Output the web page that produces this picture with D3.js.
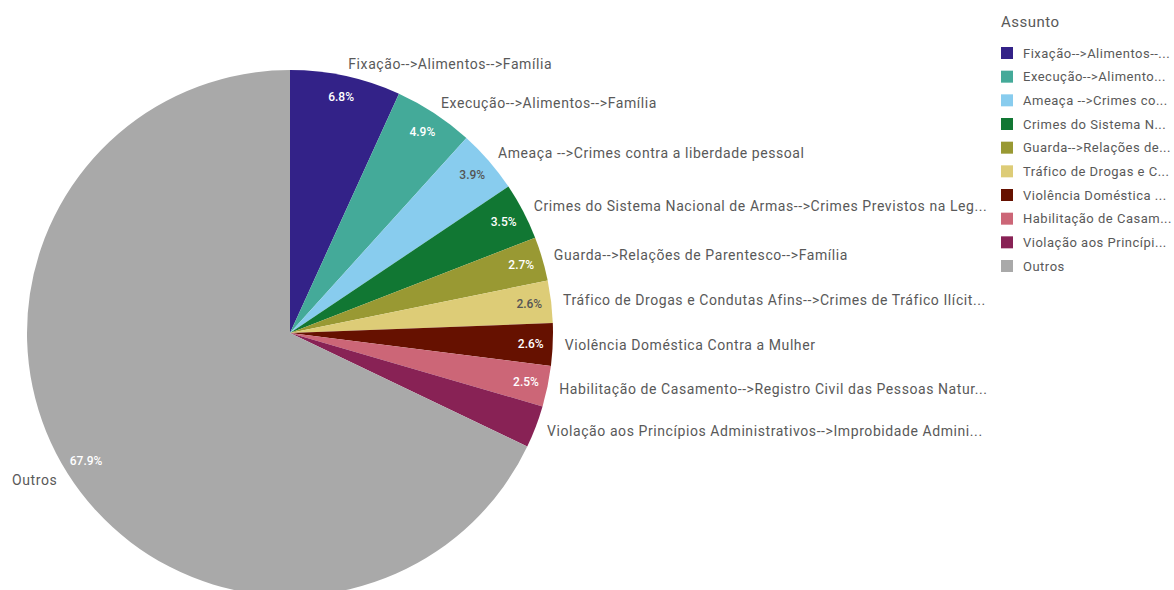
<!DOCTYPE html>
<html>
<head>
<meta charset="utf-8">
<script src="https://cdn.jsdelivr.net/npm/d3@7"></script>
<style>
  html, body { margin: 0; padding: 0; background: #fff; }
  svg { display: block; font-family: Roboto, "Noto Sans", sans-serif; }
</style>
</head>
<body>
<svg id="chart" width="1174" height="590"></svg>
<script>
const categories = [
  "Fixação-->Alimentos-->Família",
  "Execução-->Alimentos-->Família",
  "Ameaça -->Crimes contra a liberdade pessoal",
  "Crimes do Sistema Nacional de Armas-->Crimes Previstos na Leg...",
  "Guarda-->Relações de Parentesco-->Família",
  "Tráfico de Drogas e Condutas Afins-->Crimes de Tráfico Ilícit...",
  "Violência Doméstica Contra a Mulher",
  "Habilitação de Casamento-->Registro Civil das Pessoas Natur...",
  "Violação aos Princípios Administrativos-->Improbidade Admini...",
  "Outros"
];
const values = [6.8, 4.9, 3.9, 3.5, 2.7, 2.6, 2.6, 2.5, 2.6, 67.9];
const showPct = [true, true, true, true, true, true, true, true, false, true];
const colors = ["#332288", "#44aa99", "#88ccee", "#117733", "#999933", "#ddcc77", "#661100", "#cc6677", "#882255", "#a9a9a9"];
const pctTextColors = ["#ffffff", "#ffffff", "#555555", "#ffffff", "#ffffff", "#555555", "#ffffff", "#ffffff", "#ffffff", "#ffffff"];
const legendTitle = "Assunto";

const svg = d3.select("#chart");
const cx = 290, cy = 333, R = 263;

const color = d3.scaleOrdinal().domain(categories).range(colors);
const pie = d3.pie().sort(null).value(d => d.v);
const data = categories.map((c, i) => ({ c, v: values[i], i }));
const arcs = pie(data);
const arc = d3.arc().innerRadius(0).outerRadius(R);
const labelArc = d3.arc().innerRadius(R + 12).outerRadius(R + 12);
const pctArc = d3.arc().innerRadius(241).outerRadius(241);

const g = svg.append("g").attr("transform", `translate(${cx},${cy})`);
g.selectAll("path.slice").data(arcs).enter().append("path")
  .attr("class", "slice")
  .attr("d", arc)
  .attr("fill", d => color(d.data.c));

const total = d3.sum(values);
g.selectAll("text.pct").data(arcs.filter(d => showPct[d.data.i])).enter().append("text")
  .attr("class", "pct")
  .attr("transform", d => `translate(${pctArc.centroid(d)})`)
  .attr("text-anchor", "middle")
  .attr("dominant-baseline", "central")
  .attr("font-size", 12)
  .attr("font-weight", 500)
  .attr("fill", d => pctTextColors[d.data.i])
  .text(d => d3.format(".1f")(d.data.v / total * 100) + "%");

g.selectAll("text.lbl").data(arcs).enter().append("text")
  .attr("class", "lbl")
  .attr("transform", d => `translate(${labelArc.centroid(d)})`)
  .attr("text-anchor", d => ((d.startAngle + d.endAngle) / 2) < Math.PI ? "start" : "end")
  .attr("dominant-baseline", "central")
  .attr("font-size", 14)
  .attr("letter-spacing", 0.58)
  .attr("fill", "#595959")
  .text(d => d.data.c);

// Legend
const lg = svg.append("g").attr("transform", "translate(1001,0)");
lg.append("text").attr("x", 0).attr("y", 22)
  .attr("dominant-baseline", "central")
  .attr("font-size", 15).attr("letter-spacing", 0.5).attr("fill", "#595959").text(legendTitle);
const ly = d3.scalePoint().domain(categories).range([53, 266]);
const items = lg.selectAll("g.item").data(categories).enter().append("g")
  .attr("class", "item")
  .attr("transform", d => `translate(0,${ly(d)})`);
items.append("rect").attr("x", 0).attr("y", -6).attr("width", 12).attr("height", 12)
  .attr("fill", d => color(d));
items.append("text").attr("x", 22).attr("y", 0)
  .attr("dominant-baseline", "central")
  .attr("font-size", 13).attr("letter-spacing", 0.5).attr("fill", "#595959")
  .each(function(d) {
    const el = d3.select(this);
    const maxW = 1173 - 1001 - 22;
    let s = d.replace(/\.\.\.$/, "");
    el.text(s);
    if (this.getComputedTextLength() > maxW) {
      while (s.length > 1) {
        s = s.slice(0, -1);
        el.text(s + "...");
        if (this.getComputedTextLength() <= maxW) break;
      }
    }
  });
</script>
</body>
</html>
